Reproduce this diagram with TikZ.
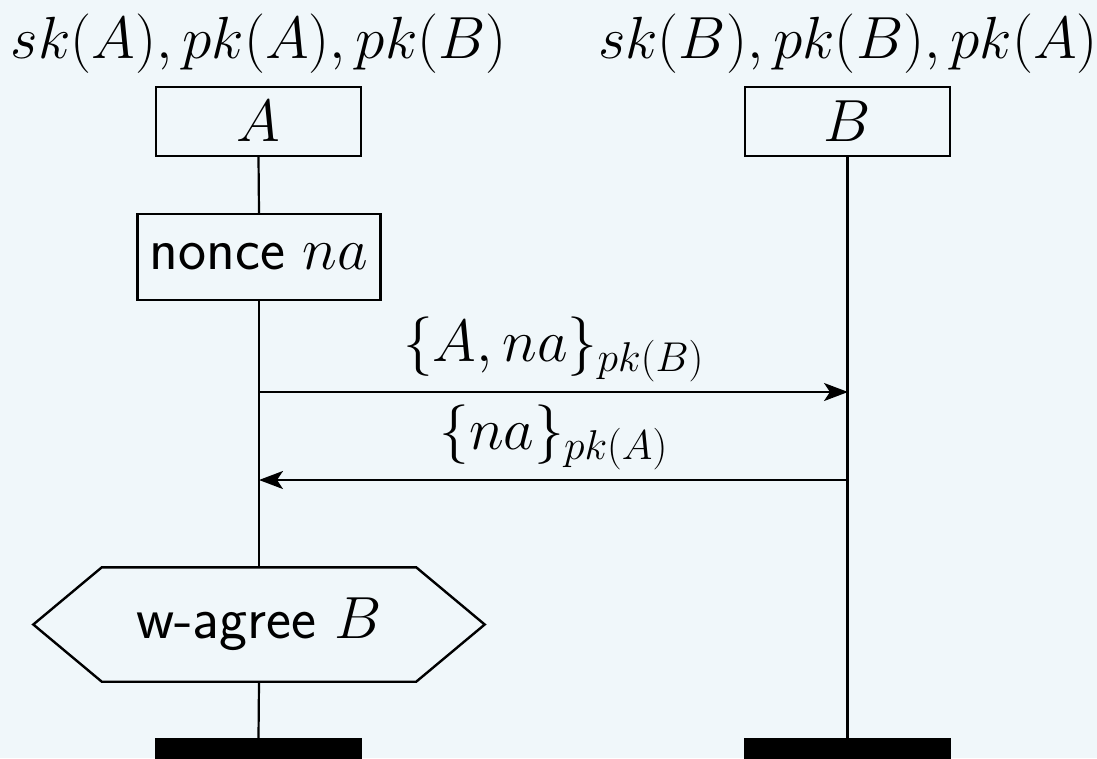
\documentclass[tikz,border=0pt]{standalone}
\usepackage{fix-cm}
\usetikzlibrary{arrows.meta,calc}
\definecolor{bgc}{RGB}{240,247,250}
\begin{document}
\begin{tikzpicture}[x=1pt,y=-1pt,
  every node/.style={font=\fontsize{59.5}{71}\selectfont, inner sep=0pt},
  lline/.style={line width=2.2pt, black},
  instbox/.style={draw, line width=2.4pt, fill=bgc, minimum width=205pt, minimum height=69pt},
  actbox/.style={draw, line width=2.4pt, fill=bgc, minimum width=243pt, minimum height=86pt},
  endbar/.style={fill=black, minimum width=207pt, minimum height=40pt, anchor=north},
  msg/.style={line width=2.2pt, -{Stealth[length=24pt,width=18pt,inset=6pt]}},
  lbl/.style={anchor=base}]
\fill[bgc] (0,0) rectangle (1097,758);
\useasboundingbox (0,0) rectangle (1097,758);
% headers
\node[lbl] (hA) at (259,58) {$sk(A), pk(A), pk(B)$};
\node[lbl] (hB) at (848,58) {$sk(B), pk(B), pk(A)$};
% instance heads
\node[instbox] (A) at (258.5,121.5) {$A$};
\node[instbox] (B) at (847.5,121.5) {$B$};
% action
\node[actbox] (nonce) at (259,257) {\textsf{nonce} $na$};
% condition hexagon
\node[minimum width=451pt, minimum height=114pt] (hex) at (259,624.5) {\textsf{w-agree} $B$};
\draw[line width=2.4pt] (hex.west) -- ($(hex.north west)+(68.5,0)$) -- ($(hex.north east)+(-68.5,0)$)
  -- (hex.east) -- ($(hex.south east)+(-68.5,0)$) -- ($(hex.south west)+(68.5,0)$) -- cycle;
% instance ends
\node[endbar] (endA) at (258.5,738) {};
\node[endbar] (endB) at (847.5,738) {};
% lifelines
\draw[lline] (A.south) -- (nonce.north);
\draw[lline] (nonce.south) -- (hex.north);
\draw[lline] (hex.south) -- (endA.north);
\draw[lline] (B.south) -- (endB.north);
% messages
\coordinate (m1a) at (259,392);
\coordinate (m1b) at (848,392);
\coordinate (m2a) at (259,480);
\coordinate (m2b) at (848,480);
\draw[msg] (m1a) -- (m1b);
\draw[msg] (m2b) -- (m2a);
\node[lbl] (l1) at ($(m1a)!0.5!(m1b)+(0,-31)$) {$\{A, na\}_{pk(B)}$};
\node[lbl] (l2) at ($(m2a)!0.5!(m2b)+(0,-31)$) {$\{na\}_{pk(A)}$};
\end{tikzpicture}
\end{document}
